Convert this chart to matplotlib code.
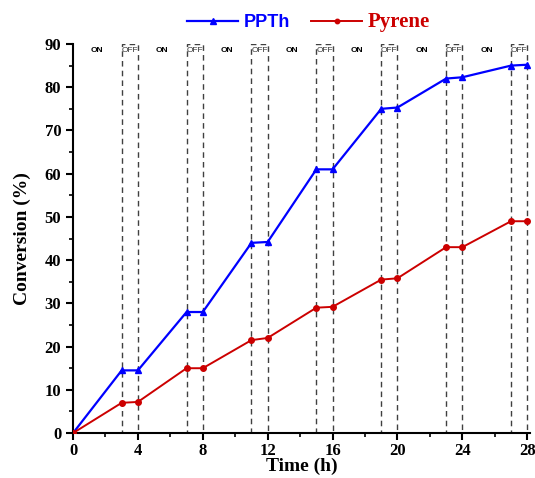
import matplotlib.pyplot as plt
from matplotlib.ticker import MultipleLocator
from matplotlib.patches import Rectangle

time_h = [0, 3, 4, 7, 8, 11, 12, 15, 16, 19, 20, 23, 24, 27, 28]
ppth = [0, 14.5, 14.5, 28, 28, 44, 44.2, 61, 61, 75, 75.3, 82, 82.3, 85, 85.2]
pyrene = [0, 7, 7.2, 15, 15, 21.5, 22, 29, 29.2, 35.5, 35.8, 43, 43, 49, 49]
off_periods = [(3, 4), (7, 8), (11, 12), (15, 16), (19, 20), (23, 24), (27, 28)]
on_centers = [1.5, 5.5, 9.5, 13.5, 17.5, 21.5, 25.5]

plt.rcParams['font.family'] = 'Liberation Serif'

fig = plt.figure(figsize=(5.35, 4.78), dpi=100)
ax = fig.add_axes([0.1365, 0.094, 0.855, 0.814])

for start, end in off_periods:
    ax.add_patch(Rectangle((start, 0), end - start, 90, fill=False,
                           linestyle=(0, (4, 3)), edgecolor='#404040', lw=1.0, zorder=1))
    ax.text((start + end) / 2, 88.4, 'OFF', ha='center', va='center',
            fontsize=6, family='Liberation Sans', color='#333333')
for c in on_centers:
    ax.text(c, 88.4, 'ON', ha='center', va='center', fontsize=6,
            family='Liberation Sans', fontweight='bold', color='black')

ax.plot(time_h, ppth, color='#0000ff', marker='^', markersize=5, lw=1.6,
        label='PPTh', zorder=3)
ax.plot(time_h, pyrene, color='#cc0000', marker='o', markersize=4, lw=1.4,
        label='Pyrene', zorder=3)

ax.set_xlim(0, 28.2)
ax.set_ylim(0, 90)
ax.xaxis.set_major_locator(MultipleLocator(4))
ax.xaxis.set_minor_locator(MultipleLocator(2))
ax.yaxis.set_major_locator(MultipleLocator(10))
ax.yaxis.set_minor_locator(MultipleLocator(5))
ax.spines['top'].set_visible(False)
ax.spines['right'].set_visible(False)
ax.spines['left'].set_linewidth(1.5)
ax.spines['bottom'].set_linewidth(1.5)
ax.tick_params(which='major', direction='out', length=5, width=1.5, labelsize=12)
ax.tick_params(axis='x', which='major', pad=2)
ax.tick_params(which='minor', direction='out', length=3, width=1.2)
for lab in ax.get_xticklabels() + ax.get_yticklabels():
    lab.set_fontweight('bold')

ax.set_xlabel('Time (h)', fontsize=14, fontweight='bold', labelpad=-1)
ax.set_ylabel('Conversion (%)', fontsize=14, fontweight='bold', labelpad=10)

leg = ax.legend(loc='lower center', bbox_to_anchor=(0.515, 1.012), ncol=2, frameon=False,
                prop={'family': 'Liberation Sans', 'weight': 'bold', 'size': 13},
                handlelength=2.8, columnspacing=1.2, handletextpad=0.3,
                borderaxespad=0, numpoints=1, markerscale=0.8)
for txt, col, fam in zip(leg.get_texts(), ['#0000ff', '#cc0000'],
                         ['Liberation Sans', 'Liberation Serif']):
    txt.set_color(col)
    txt.set_family(fam)
    txt.set_fontsize(15 if fam == 'Liberation Serif' else 13)

fig.savefig('out.png', dpi=100)
